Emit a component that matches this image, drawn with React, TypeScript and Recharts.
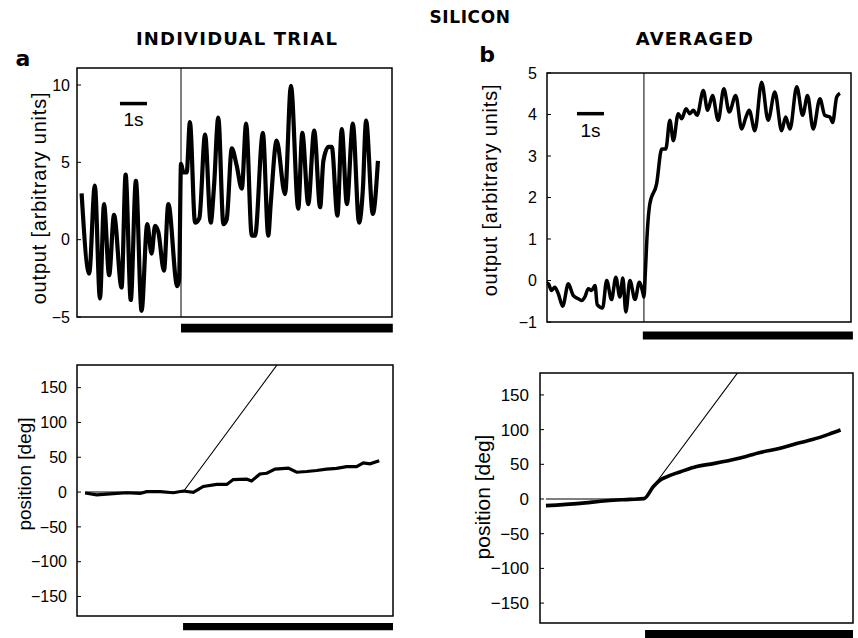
import React from 'react';
import { LineChart, Line, XAxis, YAxis, ReferenceLine, ReferenceArea } from 'recharts';

const FONT = '"Liberation Sans", Arial, Helvetica, sans-serif';
const TITLE_FONT = '"DejaVu Sans", "Liberation Sans", Arial, sans-serif';

// ---------- Panel a (individual trial) : output ----------
const trialTime = [-3.68, -3.4, -3.19, -3.0, -2.85, -2.66, -2.48, -2.2, -2.05, -1.86, -1.67, -1.46, -1.25, -1.09, -0.96, -0.84, -0.63, -0.47, -0.14, -0.07, 0.0, 0.09, 0.21, 0.33, 0.52, 0.68, 0.89, 1.1, 1.22, 1.38, 1.57, 1.69, 1.88, 2.06, 2.25, 2.41, 2.62, 2.74, 3.03, 3.23, 3.32, 3.54, 3.85, 4.07, 4.34, 4.49, 4.71, 4.93, 5.15, 5.27, 5.46, 5.58, 5.79, 5.95, 6.14, 6.36, 6.59, 6.73, 6.85, 7.1, 7.29];
const trialOutput = [3.0, -2.2, 3.5, -3.8, 2.3, -2.3, 1.6, -3.1, 4.2, -3.9, 3.8, -4.6, 1.0, -0.9, 0.9, 0.5, -2.0, 2.3, -3.0, -2.6, 4.9, 4.35, 4.35, 7.6, 1.1, 1.4, 6.8, 1.1, 3.4, 7.9, 1.0, 1.3, 5.9, 4.8, 3.3, 7.5, 0.26, 0.26, 6.9, 0.26, 2.3, 6.4, 2.95, 9.95, 2.0, 6.9, 2.3, 7.05, 2.1, 5.1, 6.0, 6.0, 1.55, 7.15, 2.3, 7.5, 1.1, 3.2, 7.7, 1.66, 5.1];

// ---------- Panel a (individual trial) : position ----------
const trialPosTime = [-3.63, -3.2, -2.83, -2.09, -1.59, -1.35, -0.85, -0.36, 0.01, 0.38, 0.75, 1.25, 1.62, 1.86, 2.36, 2.54, 2.85, 3.1, 3.41, 3.9, 4.21, 4.58, 4.95, 5.32, 5.69, 6.06, 6.43, 6.68, 6.93, 7.27];
const trialPos = [-1.4, -4, -3, -1, -2, 0.5, 0.5, -1, 1.5, -0.5, 8, 11, 11, 18, 18.5, 16, 26, 27, 33, 34.5, 28.5, 29.5, 31, 33, 34, 36.5, 36.5, 42, 40.5, 45];

// ---------- Panel b (averaged) : output ----------
const avgTime = [-3.67, -3.54, -3.42, -3.3, -3.17, -3.01, -2.8, -2.62, -2.43, -2.31, -2.19, -2.06, -1.94, -1.81, -1.73, -1.53, -1.38, -1.2, -1.04, -0.89, -0.78, -0.67, -0.52, -0.33, -0.17, -0.03, 0.0, 0.06, 0.11, 0.22, 0.47, 0.66, 0.81, 0.96, 1.09, 1.27, 1.4, 1.56, 1.7, 1.83, 1.97, 2.2, 2.36, 2.54, 2.75, 2.96, 3.16, 3.4, 3.62, 3.78, 3.9, 4.11, 4.36, 4.6, 4.85, 5.1, 5.25, 5.41, 5.66, 5.88, 6.06, 6.27, 6.52, 6.7, 6.89, 6.99, 7.14, 7.26];
const avgOutput = [-0.04, -0.08, -0.24, -0.16, -0.32, -0.62, -0.08, -0.36, -0.44, -0.48, -0.4, -0.2, -0.24, -0.12, -0.58, -0.66, 0.0, -0.46, 0.08, -0.4, 0.06, -0.76, 0.0, -0.46, -0.04, -0.32, -0.4, 0.3, 1.0, 1.85, 2.33, 3.17, 3.17, 3.86, 3.37, 4.02, 3.9, 4.14, 4.02, 4.1, 3.98, 4.58, 4.1, 4.46, 3.86, 4.62, 4.06, 4.46, 3.65, 3.94, 4.1, 3.61, 4.78, 3.86, 4.54, 3.61, 3.94, 3.65, 4.67, 3.98, 4.46, 3.65, 4.38, 3.98, 3.94, 3.81, 4.42, 4.51];

// ---------- Panel b (averaged) : position ----------
const avgPosTime = [-3.63, -2.37, -1.38, -0.52, 0.0, 0.35, 0.59, 0.84, 1.33, 1.95, 2.57, 3.56, 4.3, 5.04, 5.65, 6.27, 6.89, 7.28];
const avgPos = [-9.6, -6.3, -2.4, -0.6, 0.5, 18, 27, 32, 39, 47, 51, 59, 67, 73, 80, 86, 94, 99.5];

// ---------- Stimulus (thin line) ----------
const stimTime = [-3.63, 0, 4.5];
const stimPos = [0, 0, 236];

// ---------- Tick values ----------
const outTicksA = [-5, 0, 5, 10];
const outTicksB = [-1, 0, 1, 2, 3, 4, 5];
const posTicks = [-150, -100, -50, 0, 50, 100, 150];

// ---------- Domains ----------
const xDomA1: [number, number] = [-3.85, 7.81];
const yDomA1: [number, number] = [-5, 11.1];
const xDomA2: [number, number] = [-3.93, 7.78];
const yDomA2: [number, number] = [-178, 182.5];
const xDomB1: [number, number] = [-3.59, 7.67];
const yDomB1: [number, number] = [-1, 5];
const xDomB2: [number, number] = [-3.85, 7.74];
const yDomB2: [number, number] = [-178.7, 181.6];

const onset = 0;

const zip = (ts: number[], vs: number[]) => ts.map((t, i) => ({ t, v: vs[i] }));
const minus = (v: number) => (v < 0 ? '\u2212' + Math.abs(v) : String(v));

type Box = { left: number; right: number; top: number; bottom: number };

const YW = 60;

function Panel(props: {
  box: Box;
  xDomain: [number, number];
  yDomain: [number, number];
  ticks: number[];
  gap: number;
  fontSize: number;
  children?: React.ReactNode;
}) {
  const { box, xDomain, yDomain, ticks, gap, fontSize, children } = props;
  return (
    <div style={{ position: 'absolute', left: 0, top: 0 }}>
      <LineChart
        width={858}
        height={638}
        margin={{ top: box.top, bottom: 638 - box.bottom, left: box.left - YW, right: 858 - box.right }}
      >
        <XAxis type="number" dataKey="t" domain={xDomain} allowDataOverflow hide />
        <YAxis
          type="number"
          domain={yDomain}
          allowDataOverflow
          ticks={ticks}
          interval={0}
          width={YW}
          axisLine={false}
          tickSize={-4}
          tickMargin={4 + gap}
          tickLine={{ stroke: '#000', strokeWidth: 1 }}
          tick={{ fill: '#000', fontSize, fontFamily: FONT }}
          tickFormatter={minus}
        />
        <ReferenceArea
          x1={xDomain[0]}
          x2={xDomain[1]}
          y1={yDomain[0]}
          y2={yDomain[1]}
          fill="none"
          fillOpacity={0}
          stroke="#000"
          strokeWidth={1.5}
        />
        {children}
      </LineChart>
    </div>
  );
}

export default function App() {
  return (
    <div style={{ position: 'absolute', left: 0, top: 0, width: 858, height: 638, background: '#fff', fontFamily: FONT }}>
      {/* a: output */}
      <Panel box={{ left: 77, right: 392, top: 68, bottom: 317 }} xDomain={xDomA1} yDomain={yDomA1} ticks={outTicksA} gap={7} fontSize={16}>
        <ReferenceLine x={onset} stroke="#000" strokeWidth={1} />
        <ReferenceLine
          segment={[{ x: -2.26, y: 8.8 }, { x: -1.26, y: 8.8 }]}
          stroke="#000"
          strokeWidth={3.5}
          ifOverflow="visible"
          label={{ value: '1s', position: 'bottom', offset: 9, fontSize: 19, fill: '#000', fontFamily: FONT }}
        />
        <ReferenceArea x1={onset} x2={xDomA1[1] + 0.03} y1={-6.01} y2={-5.43} fill="#000" fillOpacity={1} stroke="none" ifOverflow="visible" />
        <Line data={zip(trialTime, trialOutput)} dataKey="v" type="monotone" stroke="#000" strokeWidth={4.2} dot={false} isAnimationActive={false} />
      </Panel>

      {/* a: position */}
      <Panel box={{ left: 77, right: 393, top: 365, bottom: 616 }} xDomain={xDomA2} yDomain={yDomA2} ticks={posTicks} gap={10} fontSize={16}>
        <ReferenceArea x1={onset} x2={xDomA2[1]} y1={-198.3} y2={-188.2} fill="#000" fillOpacity={1} stroke="none" ifOverflow="visible" />
        <Line data={zip(stimTime, stimPos)} dataKey="v" type="linear" stroke="#000" strokeWidth={1.1} dot={false} isAnimationActive={false} />
        <Line data={zip(trialPosTime, trialPos)} dataKey="v" type="linear" stroke="#000" strokeWidth={3.2} dot={false} isAnimationActive={false} />
      </Panel>

      {/* b: output */}
      <Panel box={{ left: 547, right: 851, top: 73, bottom: 322 }} xDomain={xDomB1} yDomain={yDomB1} ticks={outTicksB} gap={10} fontSize={16}>
        <ReferenceLine x={onset} stroke="#000" strokeWidth={1} />
        <ReferenceLine
          segment={[{ x: -2.48, y: 4.02 }, { x: -1.48, y: 4.02 }]}
          stroke="#000"
          strokeWidth={3.5}
          ifOverflow="visible"
          label={{ value: '1s', position: 'bottom', offset: 10, fontSize: 19, fill: '#000', fontFamily: FONT }}
        />
        <ReferenceArea x1={-0.04} x2={xDomB1[1] + 0.07} y1={-1.42} y2={-1.23} fill="#000" fillOpacity={1} stroke="none" ifOverflow="visible" />
        <Line data={zip(avgTime, avgOutput)} dataKey="v" type="monotone" stroke="#000" strokeWidth={3.5} dot={false} isAnimationActive={false} />
      </Panel>

      {/* b: position */}
      <Panel box={{ left: 540, right: 853, top: 373, bottom: 623 }} xDomain={xDomB2} yDomain={yDomB2} ticks={posTicks} gap={11} fontSize={17}>
        <ReferenceArea x1={0.04} x2={xDomB2[1]} y1={-202} y2={-188.8} fill="#000" fillOpacity={1} stroke="none" ifOverflow="visible" />
        <Line data={zip(stimTime, stimPos)} dataKey="v" type="linear" stroke="#000" strokeWidth={1.1} dot={false} isAnimationActive={false} />
        <Line data={zip(avgPosTime, avgPos)} dataKey="v" type="monotone" stroke="#000" strokeWidth={3.6} dot={false} isAnimationActive={false} />
      </Panel>

      <svg width={858} height={638} style={{ position: 'absolute', left: 0, top: 0, pointerEvents: 'none' }} fontFamily={FONT} fill="#000">
        <text x={470} y={23} textAnchor="middle" fontSize={17} fontWeight="bold" fontFamily={TITLE_FONT} letterSpacing={0.6}>SILICON</text>
        <text x={237} y={45} textAnchor="middle" fontSize={18} fontWeight="bold" fontFamily={TITLE_FONT} letterSpacing={1.2}>INDIVIDUAL TRIAL</text>
        <text x={695} y={45} textAnchor="middle" fontSize={18} fontWeight="bold" fontFamily={TITLE_FONT} letterSpacing={1.2}>AVERAGED</text>
        <text x={23} y={66} textAnchor="middle" fontSize={22} fontWeight="bold" fontFamily={TITLE_FONT}>a</text>
        <text x={487} y={62} textAnchor="middle" fontSize={22} fontWeight="bold" fontFamily={TITLE_FONT}>b</text>
        <text transform="translate(39,198) rotate(-90)" textAnchor="middle" dominantBaseline="central" fontSize={20} letterSpacing={0.8}>output [arbitrary units]</text>
        <text transform="translate(490,190) rotate(-90)" textAnchor="middle" dominantBaseline="central" fontSize={20} letterSpacing={0.8}>output [arbitrary units]</text>
        <text transform="translate(24,474) rotate(-90)" textAnchor="middle" dominantBaseline="central" fontSize={19}>position [deg]</text>
        <text transform="translate(482,497) rotate(-90)" textAnchor="middle" dominantBaseline="central" fontSize={21}>position [deg]</text>
      </svg>
    </div>
  );
}
